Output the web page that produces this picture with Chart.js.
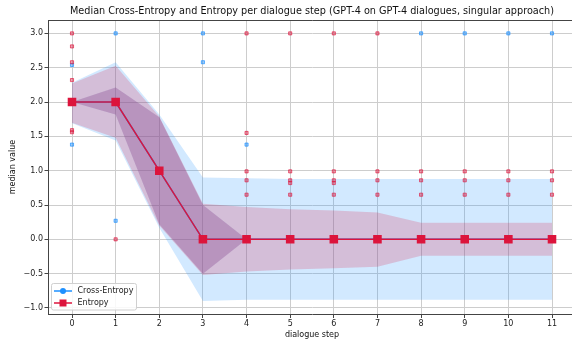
<!DOCTYPE html>
<html>
<head>
<meta charset="utf-8">
<title>Median Cross-Entropy and Entropy</title>
<script src="https://cdn.jsdelivr.net/npm/chart.js@4.4.1/dist/chart.umd.min.js"></script>
<style>
  html, body { margin: 0; padding: 0; background: #fff; overflow: hidden; }
  #chartBox { width: 580px; height: 345px; }
</style>
</head>
<body>
<div id="chartBox"><canvas id="medianChart" width="580" height="345"></canvas></div>
<script>
// ===== data =====
const steps = [0, 1, 2, 3, 4, 5, 6, 7, 8, 9, 10, 11];
const yTicks = [-1.0, -0.5, 0.0, 0.5, 1.0, 1.5, 2.0, 2.5, 3.0];

const ceMedian  = [2, 2, 1, 0, 0, 0, 0, 0, 0, 0, 0, 0];
const entMedian = [2, 2, 1, 0, 0, 0, 0, 0, 0, 0, 0, 0];

// outer spread
const ceUpper  = [2.28, 2.58, 1.82, 0.90, 0.89, 0.88, 0.88, 0.88, 0.88, 0.88, 0.88, 0.88];
const ceLower  = [1.69, 1.44, 0.17, -0.90, -0.88, -0.88, -0.88, -0.88, -0.88, -0.88, -0.88, -0.88];
const entUpper = [2.27, 2.53, 1.79, 0.52, 0.47, 0.44, 0.42, 0.39, 0.24, 0.24, 0.24, 0.24];
const entLower = [1.70, 1.48, 0.20, -0.52, -0.47, -0.44, -0.42, -0.40, -0.24, -0.24, -0.24, -0.24];

// inner (quartile) spread
const ceQ3  = [2.0, 2.21, 1.78, 0.50, 0, 0, 0, 0, 0, 0, 0, 0];
const ceQ1  = [2.0, 1.82, 0.22, -0.50, 0, 0, 0, 0, 0, 0, 0, 0];
const entQ3 = [2.0, 2.21, 1.78, 0.50, 0, 0, 0, 0, 0, 0, 0, 0];
const entQ1 = [2.0, 1.82, 0.22, -0.50, 0, 0, 0, 0, 0, 0, 0, 0];

// single dialogues far from the median
const ceOutStep  = [0, 0, 1, 1, 3, 3, 4, 8, 9, 10, 11];
const ceOutValue = [2.54, 1.38, 3.0, 0.27, 3.0, 2.58, 1.38, 3.0, 3.0, 3.0, 3.0];
const entOutStep  = [0, 0, 0, 0, 0, 0, 1, 4, 4, 4, 4, 4, 5, 5, 5, 5, 5, 6, 6, 6, 6, 6, 7, 7, 7, 7, 8, 8, 8, 9, 9, 9, 10, 10, 10, 11, 11, 11];
const entOutValue = [3.0, 2.81, 2.58, 2.32, 1.59, 1.56, 0.0, 3.0, 1.55, 0.99, 0.86, 0.65, 3.0, 0.99, 0.86, 0.82, 0.65, 3.0, 0.99, 0.86, 0.82, 0.65, 3.0, 0.99, 0.86, 0.65, 0.99, 0.86, 0.65, 0.99, 0.86, 0.65, 0.99, 0.86, 0.65, 0.99, 0.86, 0.65];

const BLUE = "#1e90ff";
const RED = "#dc143c";
const FONT = "DejaVu Sans";

class MedianChart {
  constructor() {
    this.canvas = document.getElementById("medianChart");
    this.render();
  }

  pairs(xs, ys) {
    return xs.map((x, i) => ({ x: x, y: ys[i] }));
  }

  band(upper, lower, color) {
    // two lines, the lower one filled up to the upper one
    return [
      { type: "line", data: this.pairs(steps, upper), borderWidth: 0, pointRadius: 0, fill: false },
      { type: "line", data: this.pairs(steps, lower), borderWidth: 0, pointRadius: 0, fill: "-1", backgroundColor: color },
    ];
  }

  buildDatasets() {
    return [
      { type: "line", label: "Entropy", data: this.pairs(steps, entMedian), borderColor: RED, backgroundColor: RED,
        borderWidth: 1.5, pointStyle: "rect", pointRadius: 5, fill: false },
      { type: "line", label: "Cross-Entropy", data: this.pairs(steps, ceMedian), borderColor: BLUE, backgroundColor: BLUE,
        borderWidth: 1.5, pointStyle: "circle", pointRadius: 3, fill: false },
      { type: "scatter", data: this.pairs(entOutStep, entOutValue), pointStyle: "rect", pointRadius: 2.2,
        backgroundColor: "rgba(220,20,60,0.4)", borderColor: "rgba(220,20,60,0.8)", borderWidth: 0.8 },
      { type: "scatter", data: this.pairs(ceOutStep, ceOutValue), pointStyle: "rect", pointRadius: 2.2,
        backgroundColor: "rgba(30,144,255,0.45)", borderColor: "rgba(30,144,255,0.85)", borderWidth: 0.8 },
      ...this.band(entQ3, entQ1, "rgba(220,20,60,0.2)"),
      ...this.band(ceQ3, ceQ1, "rgba(30,144,255,0.2)"),
      ...this.band(entUpper, entLower, "rgba(220,20,60,0.2)"),
      ...this.band(ceUpper, ceLower, "rgba(30,144,255,0.2)"),
    ];
  }

  decorations() {
    return {
      id: "decorations",
      beforeDraw(chart) {
        const ctx = chart.ctx;
        ctx.save();
        ctx.fillStyle = "#fff";
        ctx.fillRect(0, 0, chart.width, chart.height);
        ctx.restore();
      },
      afterDraw(chart) {
        const ctx = chart.ctx;
        const a = chart.chartArea;
        const midX = (a.left + a.right) / 2;
        ctx.save();
        // top and right spines
        ctx.strokeStyle = "#444";
        ctx.lineWidth = 1;
        ctx.beginPath();
        ctx.moveTo(a.left, a.top + 0.5);
        ctx.lineTo(a.right + 0.5, a.top + 0.5);
        ctx.lineTo(a.right + 0.5, a.bottom);
        ctx.stroke();

        ctx.fillStyle = "#111";
        ctx.textAlign = "center";
        ctx.textBaseline = "middle";
        ctx.font = `9.7px "${FONT}"`;
        ctx.fillText("Median Cross-Entropy and Entropy per dialogue step (GPT-4 on GPT-4 dialogues, singular approach)", midX, 11);

        ctx.font = `8px "${FONT}"`;
        ctx.fillText("dialogue step", midX, 335);
        ctx.save();
        ctx.translate(13, 167);
        ctx.rotate(-Math.PI / 2);
        ctx.fillText("median value", 0, 0);
        ctx.restore();

        // legend box, lower left
        ctx.fillStyle = "rgba(255,255,255,0.85)";
        ctx.strokeStyle = "#d0d0d0";
        ctx.beginPath();
        ctx.roundRect(51.5, 283.5, 85, 26.5, 2);
        ctx.fill();
        ctx.stroke();

        const rows = [
          { label: "Cross-Entropy", color: BLUE, y: 291, marker: "circle" },
          { label: "Entropy", color: RED, y: 303, marker: "rect" },
        ];
        rows.forEach(r => {
          ctx.strokeStyle = r.color;
          ctx.fillStyle = r.color;
          ctx.lineWidth = 1.5;
          ctx.beginPath();
          ctx.moveTo(54, r.y);
          ctx.lineTo(72, r.y);
          ctx.stroke();
          ctx.beginPath();
          if (r.marker === "circle") ctx.arc(63, r.y, 3, 0, Math.PI * 2);
          else ctx.rect(59.5, r.y - 3.5, 7, 7);
          ctx.fill();
          ctx.fillStyle = "#222";
          ctx.textAlign = "left";
          ctx.font = `8px "${FONT}"`;
          ctx.fillText(r.label, 77.5, r.y);
        });
        ctx.restore();
      },
    };
  }

  render() {
    const tickFont = { family: FONT, size: 8 };
    new Chart(this.canvas, {
      data: { datasets: this.buildDatasets() },
      options: {
        responsive: false,
        devicePixelRatio: 1,
        animation: false,
        // axes run a little past the window's right edge, as in the original figure
        layout: { autoPadding: false, padding: { top: 20, right: 4, left: 0, bottom: 0 } },
        plugins: { legend: { display: false }, title: { display: false }, tooltip: { enabled: false } },
        elements: { line: { tension: 0 } },
        scales: {
          x: {
            type: "linear",
            min: -0.55,
            max: 11.55,
            afterBuildTicks: s => { s.ticks = steps.map(v => ({ value: v })); },
            afterFit: s => { s.height = 30.5; s.paddingLeft = 0; s.paddingRight = 0; },
            ticks: { font: tickFont, color: "#222", padding: 1.5, callback: v => String(v) },
            grid: { color: "#cdcdcd", lineWidth: 1, tickColor: "#444", tickLength: 3.5 },
            border: { color: "#444", width: 1 },
          },
          y: {
            type: "linear",
            min: -1.095,
            max: 3.195,
            afterBuildTicks: s => { s.ticks = yTicks.map(v => ({ value: v })); },
            afterFit: s => { s.width = 48; s.paddingTop = 0; s.paddingBottom = 0; },
            ticks: { font: tickFont, color: "#222", padding: 1.5,
              callback: v => (v < 0 ? "\u2212" : "") + Math.abs(v).toFixed(1) },
            grid: { color: "#cdcdcd", lineWidth: 1, tickColor: "#444", tickLength: 3.5 },
            border: { color: "#444", width: 1 },
          },
        },
      },
      plugins: [this.decorations()],
    });
  }
}

document.addEventListener("DOMContentLoaded", () => {
  new MedianChart();
});
</script>
</body>
</html>
